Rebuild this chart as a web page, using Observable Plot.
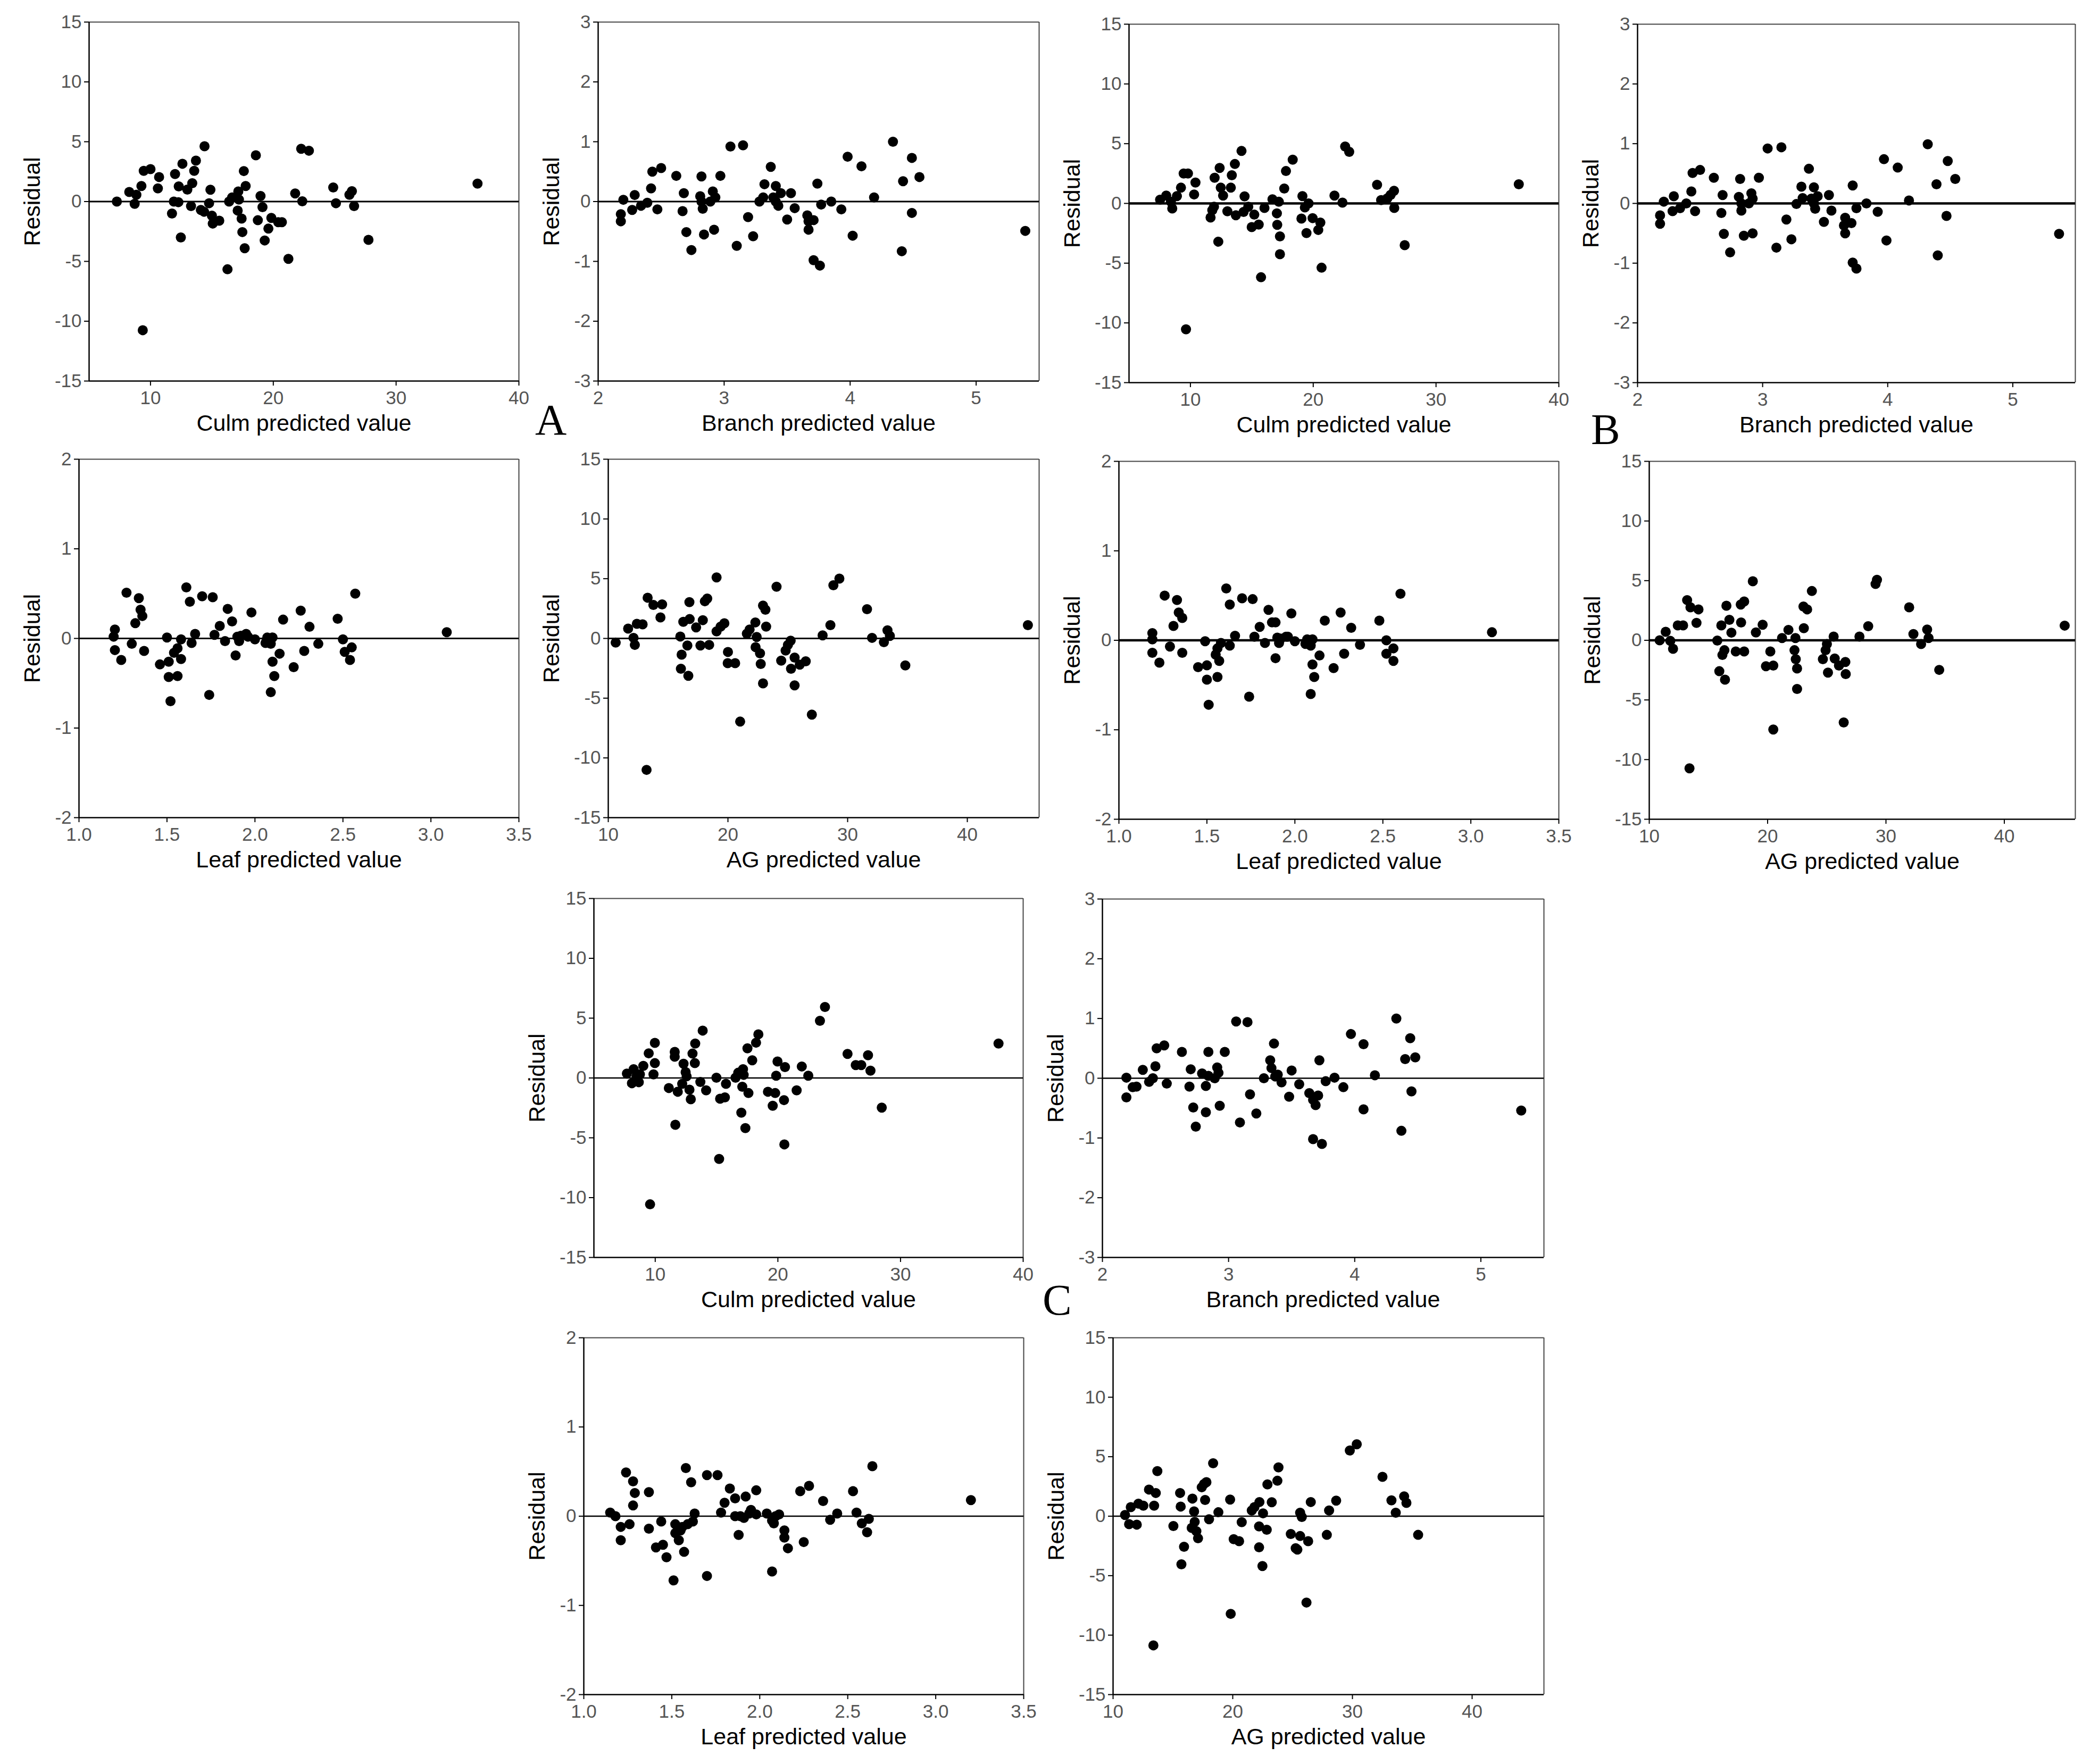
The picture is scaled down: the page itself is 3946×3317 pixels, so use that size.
<!DOCTYPE html>
<html><head><meta charset="utf-8">
<script src="https://cdn.jsdelivr.net/npm/d3@7"></script>
<script src="https://cdn.jsdelivr.net/npm/@observablehq/plot@0.6"></script>
<style>
body{margin:0;background:#fff;}
#wrap{position:relative;width:3946px;height:3317px;background:#fff;overflow:hidden;}
#wrap svg{position:absolute;}
.letter{position:absolute;font-family:"Liberation Serif","Times New Roman",serif;font-size:82px;line-height:80px;color:#000;}
</style></head><body><div id="wrap"></div>
<script>
// ---- Data ----
const culmA_pred = [7.26,8.27,8.85,8.71,9.26,9.45,10.0,9.37,10.6,10.7,11.75,12.0,11.9,12.27,12.3,12.6,12.47,13.0,13.3,13.4,13.56,13.7,14.1,14.4,14.36,14.77,14.88,15.0,15.07,15.6,16.27,16.4,16.65,17.1,17.15,17.2,17.42,17.48,17.6,17.67,17.75,18.58,18.74,18.96,19.12,19.3,19.6,19.84,20.4,20.7,21.23,21.78,22.27,22.36,22.9,24.88,25.1,26.2,26.4,26.58,27.75,36.63];
const culmA_res = [0.0,0.8,0.57,-0.19,1.3,2.57,2.71,-10.75,1.1,2.05,-1.0,2.3,0,-0.05,1.27,3.16,-3.0,1.0,-0.38,1.53,2.57,3.42,-0.7,4.62,-0.85,-0.14,0.99,-1.18,-1.84,-1.6,-5.66,0,0.35,-0.75,0.85,0.17,-1.42,-2.55,2.55,-3.9,1.3,3.87,-1.56,0.47,-0.47,-3.25,-2.26,-1.37,-1.72,-1.72,-4.79,0.68,4.41,0.02,4.25,1.18,-0.14,0.57,0.87,-0.38,-3.2,1.5];

const branchA_pred = [2.18,2.18,2.20,2.27,2.29,2.34,2.39,2.42,2.43,2.47,2.50,2.62,2.67,2.68,2.70,2.74,2.81,2.82,2.82,2.83,2.84,2.89,2.91,2.92,2.93,2.97,3.05,3.10,3.15,3.19,3.23,3.28,3.31,3.32,3.37,3.39,3.41,3.41,3.43,3.45,3.50,3.53,3.56,3.66,3.67,3.67,3.71,3.71,3.74,3.76,3.77,3.85,3.93,3.98,4.02,4.09,4.19,4.34,4.41,4.42,4.49,4.49,4.55,5.39];
const branchA_res = [-0.21,-0.33,0.03,-0.14,0.11,-0.07,-0.02,0.22,0.50,-0.13,0.56,0.43,-0.16,0.14,-0.51,-0.81,0.09,0.42,0.0,-0.12,-0.55,0.0,0.17,-0.47,0.07,0.43,0.92,-0.74,0.94,-0.26,-0.58,0.0,0.07,0.29,0.58,0.07,0.26,0.0,-0.07,0.14,-0.30,0.14,-0.11,-0.23,-0.33,-0.47,-0.98,-0.31,0.30,-1.07,-0.05,0.0,-0.13,0.75,-0.57,0.59,0.07,1.0,-0.83,0.34,-0.19,0.73,0.41,-0.49];

const culmB_pred = [7.53,8.03,8.41,8.52,8.9,9.23,9.45,9.8,9.64,10.3,10.41,11.64,11.78,11.92,11.97,12.27,12.38,12.47,12.66,13.01,13.29,13.37,13.62,13.7,14.16,14.33,14.41,14.71,14.99,15.2,15.56,15.75,16.03,16.68,17.04,17.07,17.2,17.29,17.29,17.64,17.78,18.33,19.04,19.12,19.32,19.45,19.62,19.95,20.41,20.58,20.68,21.73,22.38,22.6,22.93,25.2,25.53,26.03,26.3,26.58,26.6,27.45,36.74];
const culmB_res = [0.31,0.66,0.14,-0.42,0.61,1.32,2.5,2.5,-10.54,0.75,1.75,-1.18,-0.57,-0.28,2.15,-3.2,2.97,1.32,0.66,-0.66,1.32,2.36,3.3,-0.99,4.39,-0.71,0.59,-0.28,-1.98,-0.94,-1.77,-6.18,-0.38,0.35,-0.83,-1.79,0.14,-2.76,-4.25,1.25,2.71,3.66,-1.27,0.61,-0.33,-2.48,0.0,-1.23,-2.22,-1.6,-5.38,0.66,0.07,4.76,4.32,1.56,0.28,0.42,0.71,1.06,-0.38,-3.49,1.6];

const branchB_pred = [2.18,2.18,2.21,2.28,2.29,2.34,2.39,2.43,2.44,2.46,2.50,2.61,2.67,2.68,2.69,2.74,2.81,2.82,2.83,2.83,2.85,2.89,2.91,2.92,2.92,2.97,3.04,3.11,3.15,3.19,3.23,3.27,3.31,3.32,3.37,3.39,3.41,3.41,3.42,3.44,3.49,3.53,3.55,3.66,3.65,3.66,3.71,3.72,3.72,3.75,3.75,3.83,3.92,3.97,3.99,4.08,4.17,4.32,4.39,4.40,4.47,4.48,4.54,5.37];
const branchB_res = [-0.2,-0.34,0.03,-0.13,0.12,-0.08,0.0,0.2,0.51,-0.13,0.56,0.43,-0.16,0.14,-0.51,-0.82,0.11,0.41,0,-0.12,-0.54,0,0.17,-0.5,0.08,0.43,0.92,-0.74,0.94,-0.27,-0.6,-0.01,0.28,0.09,0.58,0.08,0.27,0,-0.09,0.12,-0.31,0.14,-0.12,-0.24,-0.37,-0.5,-0.33,-0.99,0.3,-1.09,-0.08,0,-0.14,0.74,-0.62,0.6,0.05,0.99,0.32,-0.87,-0.21,0.71,0.41,-0.51];

const leafA_pred = [1.197,1.204,1.204,1.24,1.27,1.30,1.32,1.34,1.35,1.36,1.37,1.46,1.50,1.51,1.51,1.52,1.54,1.56,1.56,1.58,1.58,1.61,1.63,1.64,1.66,1.70,1.74,1.76,1.77,1.80,1.83,1.845,1.87,1.89,1.90,1.91,1.92,1.95,1.96,1.98,2.00,2.06,2.07,2.09,2.09,2.10,2.10,2.11,2.14,2.16,2.22,2.26,2.28,2.31,2.36,2.47,2.50,2.51,2.54,2.55,2.57,3.09];
const leafA_res = [0.02,0.10,-0.13,-0.24,0.51,-0.06,0.17,0.45,0.32,0.25,-0.14,-0.29,0.01,-0.26,-0.43,-0.70,-0.16,-0.11,-0.42,-0.23,-0.01,0.57,0.41,-0.05,0.05,0.47,-0.63,0.46,0.04,0.14,-0.03,0.33,0.19,-0.19,0.02,-0.03,0.03,0.05,0.02,0.29,-0.01,-0.05,0.01,-0.60,-0.06,0.01,-0.26,-0.42,-0.17,0.21,-0.32,0.31,-0.14,0.13,-0.06,0.22,-0.01,-0.15,-0.24,-0.10,0.50,0.07];

const agA_pred = [10.62,11.66,12.11,12.22,12.39,12.87,13.2,13.29,13.77,14.36,14.5,16.02,16.07,16.13,16.27,16.61,16.69,16.78,16.8,17.34,17.7,17.9,18.07,18.27,18.43,19.05,19.05,19.39,19.7,20.0,19.98,20.6,21.02,21.58,21.81,22.29,22.31,22.4,22.68,22.74,22.93,22.93,23.13,23.19,24.06,24.45,24.82,25.01,25.24,25.27,25.57,25.57,26.0,26.5,27.01,27.91,28.56,28.81,29.31,31.62,32.04,33.03,33.33,33.53,34.82,45.06];
const agA_res = [-0.35,0.82,0.05,-0.54,1.22,1.18,-11.0,3.41,2.8,1.76,2.85,0.16,-2.54,-1.36,1.39,-0.59,-3.13,3.04,1.62,0.92,-0.59,1.53,3.11,3.34,-0.54,5.11,0.59,0.99,1.27,-1.13,-2.07,-2.07,-6.96,0.4,0.75,1.34,-0.73,0.12,-1.25,-2.14,2.75,-3.76,2.4,0.99,4.33,-1.86,-1.01,-0.54,-0.19,-2.54,-1.6,-3.93,-2.19,-1.91,-6.38,0.26,1.11,4.45,5.01,2.45,0.05,-0.31,0.68,0.21,-2.26,1.11];

const leafB_pred = [1.19,1.19,1.19,1.23,1.26,1.29,1.31,1.33,1.34,1.36,1.36,1.45,1.49,1.50,1.50,1.51,1.55,1.56,1.56,1.57,1.58,1.61,1.63,1.63,1.66,1.70,1.74,1.76,1.77,1.80,1.83,1.85,1.87,1.89,1.89,1.90,1.91,1.92,1.95,1.96,1.98,2.00,2.06,2.07,2.09,2.09,2.10,2.10,2.11,2.14,2.17,2.22,2.26,2.28,2.32,2.37,2.48,2.52,2.52,2.56,2.56,2.60,3.12];
const leafB_res = [0.08,0.01,-0.14,-0.25,0.50,-0.07,0.16,0.45,0.31,0.25,-0.14,-0.30,-0.01,-0.28,-0.44,-0.72,-0.16,-0.09,-0.41,-0.23,-0.03,0.58,0.40,-0.06,0.05,0.47,-0.63,0.46,0.04,0.15,-0.03,0.34,0.20,0.20,-0.20,0.03,-0.03,0.02,0.04,0.04,0.30,-0.01,-0.04,0.01,-0.60,-0.06,0.01,-0.27,-0.41,-0.17,0.22,-0.31,0.31,-0.15,0.14,-0.05,0.22,0.00,-0.15,-0.23,-0.09,0.52,0.09];

const agB_pred = [10.88,11.39,11.78,12.01,12.41,12.86,13.2,13.4,13.48,13.99,14.16,15.75,15.92,16.09,16.18,16.35,16.4,16.52,16.77,16.94,17.31,17.73,17.76,18.02,18.02,18.75,19.01,19.58,19.86,20.23,20.48,20.48,21.22,21.76,22.27,22.35,22.38,22.49,22.49,23.03,23.06,23.34,23.74,24.67,24.9,25.01,25.1,25.58,25.67,26.03,26.43,26.57,26.6,27.76,28.5,29.12,29.24,31.96,32.32,32.97,33.48,33.6,34.5,45.1];
const agB_res = [0.0,0.71,-0.05,-0.71,1.25,1.25,3.37,-10.73,2.76,1.46,2.59,-0.02,-2.59,1.25,-1.23,-0.83,-3.3,2.9,1.72,0.64,-0.94,3.0,1.49,3.25,-0.94,4.95,0.66,1.3,-2.17,-0.94,-2.12,-7.48,0.19,0.87,-0.83,0.19,-1.58,-2.36,-4.08,2.83,1.01,2.59,4.13,-1.58,-0.83,-0.31,-2.71,0.31,-1.53,-2.12,-6.89,-1.82,-2.83,0.31,1.18,4.72,5.07,2.76,0.52,-0.31,0.9,0.19,-2.48,1.23];

const culmC_pred = [7.69,8.1,8.24,8.47,8.66,8.75,9.03,9.47,9.58,9.86,9.97,9.97,11.11,11.59,11.59,11.64,11.84,12.2,12.31,12.48,12.56,12.79,12.9,13.04,13.23,13.26,13.68,13.87,14.15,14.99,15.21,15.29,15.68,15.77,16.55,16.77,17.02,17.1,17.16,17.21,17.35,17.52,17.6,17.91,18.22,18.41,19.19,19.58,19.78,19.86,19.97,20.5,20.53,20.58,21.53,21.95,22.48,23.43,23.84,25.68,26.35,26.8,27.35,27.55,28.47,37.99];
const culmC_res = [0.37,-0.44,0.73,0.14,-0.35,0.3,1.01,2.06,-10.56,0.3,1.24,2.93,-0.84,2.18,1.78,-3.91,-1.15,-0.49,1.19,0.49,0.14,-0.98,-1.78,2.04,1.24,2.88,-0.33,3.96,-1.03,0.02,-6.77,-1.73,-1.62,-0.49,0.02,0.44,-2.9,-0.73,0.73,0.26,-4.19,2.48,-1.26,1.48,2.95,3.65,-1.15,-2.32,-1.26,0.19,1.38,-1.85,-5.55,0.91,-1.03,0.96,0.19,4.78,5.93,2.01,1.08,1.08,1.9,0.61,-2.48,2.88];

const branchC_pred = [2.19,2.19,2.24,2.27,2.32,2.37,2.40,2.42,2.43,2.49,2.51,2.63,2.69,2.70,2.72,2.74,2.79,2.82,2.82,2.84,2.84,2.89,2.91,2.92,2.93,2.97,3.06,3.09,3.15,3.17,3.22,3.28,3.33,3.34,3.36,3.37,3.39,3.42,3.48,3.50,3.56,3.64,3.67,3.67,3.69,3.71,3.72,3.74,3.77,3.84,3.91,3.97,4.07,4.07,4.16,4.33,4.37,4.40,4.44,4.45,4.48,5.32];
const branchC_res = [0.01,-0.32,-0.15,-0.14,0.14,-0.06,0.0,0.20,0.50,0.55,-0.09,0.44,-0.14,0.15,-0.49,-0.81,0.08,-0.13,-0.57,0.44,0.04,0.0,0.18,0.09,-0.46,0.44,0.95,-0.74,0.94,-0.27,-0.59,0.0,0.3,0.17,0.58,0.03,0.06,-0.07,-0.31,0.13,-0.1,-0.25,-1.02,-0.36,-0.45,-0.29,0.3,-1.1,-0.05,0.01,-0.15,0.74,-0.52,0.57,0.05,1.0,-0.88,0.32,0.67,-0.22,0.35,-0.54];

const leafC_pred = [1.15,1.18,1.21,1.21,1.24,1.26,1.28,1.28,1.29,1.37,1.37,1.41,1.44,1.45,1.47,1.51,1.52,1.52,1.54,1.55,1.56,1.57,1.58,1.59,1.61,1.62,1.63,1.70,1.70,1.76,1.78,1.80,1.83,1.86,1.86,1.88,1.89,1.91,1.92,1.94,1.95,1.98,1.98,2.04,2.07,2.07,2.08,2.09,2.11,2.14,2.14,2.16,2.23,2.25,2.28,2.36,2.40,2.44,2.53,2.55,2.58,2.61,2.62,2.64,3.20];
const leafC_res = [0.04,0.0,-0.12,-0.27,0.49,-0.09,0.12,0.39,0.26,-0.14,0.27,-0.35,-0.06,-0.32,-0.46,-0.72,-0.09,-0.19,-0.27,-0.16,-0.12,-0.4,0.54,-0.09,0.38,-0.06,0.03,-0.67,0.46,0.46,0.04,0.15,0.31,0.2,0.0,-0.21,0.0,-0.02,0.22,0.03,0.07,0.02,0.29,0.03,-0.05,-0.62,-0.08,0.0,0.02,-0.16,-0.24,-0.36,0.28,-0.29,0.34,0.17,-0.04,0.03,0.28,0.04,-0.08,-0.18,-0.03,0.56,0.18];

const agC_pred = [11.0,11.34,11.48,11.98,12.12,12.53,13.0,13.37,13.43,13.57,13.7,15.04,15.6,15.65,15.71,15.93,16.63,16.57,16.77,16.82,16.96,17.1,17.41,17.6,17.69,17.8,18.02,18.36,18.8,19.78,19.83,20.08,20.53,20.75,21.59,21.81,22.23,22.2,22.2,22.48,22.53,22.84,22.9,23.26,23.73,23.82,24.85,25.26,25.4,25.63,25.63,25.77,26.16,26.3,26.52,27.86,28.05,28.64,29.78,30.36,32.51,33.26,33.62,34.32,34.51,35.49];
const agC_res = [0.1,-0.67,0.76,-0.71,1.05,0.88,2.24,-10.86,0.88,1.95,3.79,-0.83,1.95,0.81,-4.05,-2.57,1.48,-0.98,0.4,-0.48,-1.26,-1.86,2.43,2.71,1.36,2.86,-0.26,4.45,0.33,1.4,-8.21,-1.93,-2.1,-0.5,0.48,0.76,1.19,-0.86,-2.62,-4.19,0.24,-1.14,2.67,1.17,2.98,4.1,-1.5,-2.69,-2.81,-1.67,0.29,-0.07,-7.26,-2.1,1.19,-1.57,0.48,1.31,5.52,6.05,3.31,1.33,0.29,1.67,1.12,-1.57];

// axis definitions per variable
const culmTicksX = [10,20,30,40], branchTicksX = [2,3,4,5], leafTicksX = [1,1.5,2,2.5,3,3.5], agTicksX = [10,20,30,40];
const bigTicksY = [-15,-10,-5,0,5,10,15], branchTicksY = [-3,-2,-1,0,1,2,3], leafTicksY = [-2,-1,0,1,2];
const xLabels = {culm:"Culm predicted value", branch:"Branch predicted value", leaf:"Leaf predicted value", ag:"AG predicted value"};
const yLabel = "Residual";
const panelLetters = ["A","B","C"];

const kinds = {
  culm:   {xd:[5,40],  xt:culmTicksX,   yd:[-15,15], yt:bigTicksY,    fmt:d=>String(d), yoff:106},
  branch: {xd:[2,5.5], xt:branchTicksX, yd:[-3,3],   yt:branchTicksY, fmt:d=>String(d), yoff:87},
  leaf:   {xd:[1,3.5], xt:leafTicksX,   yd:[-2,2],   yt:leafTicksY,   fmt:d3.format(".1f"), yoff:87},
  ag:     {xd:[10,46], xt:agTicksX,     yd:[-15,15], yt:bigTicksY,    fmt:d=>String(d), yoff:106}
};

const panels = [
  {kind:"culm",   x:culmA_pred,   y:culmA_res,   frame:[167,41,975,716],    zero:3},
  {kind:"branch", x:branchA_pred, y:branchA_res, frame:[1124,41,1953,716],  zero:3},
  {kind:"culm",   x:culmB_pred,   y:culmB_res,   frame:[2122,45,2930,719],  zero:4.5},
  {kind:"branch", x:branchB_pred, y:branchB_res, frame:[3078,45,3901,719],  zero:4.5},
  {kind:"leaf",   x:leafA_pred,   y:leafA_res,   frame:[148,863,975,1537],  zero:3},
  {kind:"ag",     x:agA_pred,     y:agA_res,     frame:[1143,863,1953,1537],zero:3},
  {kind:"leaf",   x:leafB_pred,   y:leafB_res,   frame:[2103,867,2930,1540],zero:4.5},
  {kind:"ag",     x:agB_pred,     y:agB_res,     frame:[3100,867,3901,1540],zero:4.5},
  {kind:"culm",   x:culmC_pred,   y:culmC_res,   frame:[1116,1689,1923,2364],zero:2.5},
  {kind:"branch", x:branchC_pred, y:branchC_res, frame:[2072,1690,2902,2364],zero:2.5},
  {kind:"leaf",   x:leafC_pred,   y:leafC_res,   frame:[1097,2515,1924,3186],zero:2.5},
  {kind:"ag",     x:agC_pred,     y:agC_res,     frame:[2092,2515,2902,3186],zero:2.5}
];

const wrap = document.getElementById("wrap");
const mL = 150, mT = 30, mR = 40, mB = 130;

panels.forEach(p => {
  const k = kinds[p.kind];
  const [l, t, r, b] = p.frame;
  const data = p.x.map((v, i) => ({x: v, y: p.y[i]}));
  const svg = Plot.plot({
    width: (r - l) + mL + mR,
    height: (b - t) + mT + mB,
    marginLeft: mL, marginRight: mR, marginTop: mT, marginBottom: mB,
    style: {fontFamily: "'Liberation Sans', Arial, sans-serif", fontSize: "35px", background: "transparent", overflow: "visible", color: "#000"},
    x: {domain: k.xd},
    y: {domain: k.yd},
    marks: [
      Plot.ruleX([k.xd[1]], {stroke: "#444", strokeWidth: 2}),
      Plot.ruleY([k.yd[1]], {stroke: "#444", strokeWidth: 2}),
      Plot.ruleY([0], {stroke: "#000", strokeWidth: p.zero}),
      Plot.dot(data, {x: "x", y: "y", r: 9.5, fill: "#000", stroke: "none"}),
      Plot.ruleX([k.xd[0]], {stroke: "#000", strokeWidth: 2.5}),
      Plot.ruleY([k.yd[0]], {stroke: "#000", strokeWidth: 2.5}),
      Plot.axisX({ticks: k.xt, tickFormat: k.fmt, tickSize: 9, tickPadding: 10, stroke: "#000", strokeWidth: 2, fill: "#555", fontSize: 35, label: null}),
      Plot.axisY({ticks: k.yt, tickFormat: d => String(d), tickSize: 9, tickPadding: 5, stroke: "#000", strokeWidth: 2, fill: "#555", fontSize: 35, label: null}),
      Plot.text([xLabels[p.kind]], {text: d => d, frameAnchor: "bottom", lineAnchor: "middle", textAnchor: "middle", dy: 80, fontSize: 43, fill: "#000"}),
      Plot.text([yLabel], {text: d => d, frameAnchor: "left", lineAnchor: "middle", textAnchor: "middle", dx: -k.yoff, rotate: -90, fontSize: 43, fill: "#000"})
    ]
  });
  svg.style.left = (l - mL) + "px";
  svg.style.top = (t - mT) + "px";
  wrap.appendChild(svg);
});

// panel letters
const letterPos = [[1006, 750], [2991, 768], [1960, 2405]];
panelLetters.forEach((s, i) => {
  const d = document.createElement("div");
  d.className = "letter";
  d.textContent = s;
  d.style.left = letterPos[i][0] + "px";
  d.style.top = letterPos[i][1] + "px";
  wrap.appendChild(d);
});
</script>
</body></html>
